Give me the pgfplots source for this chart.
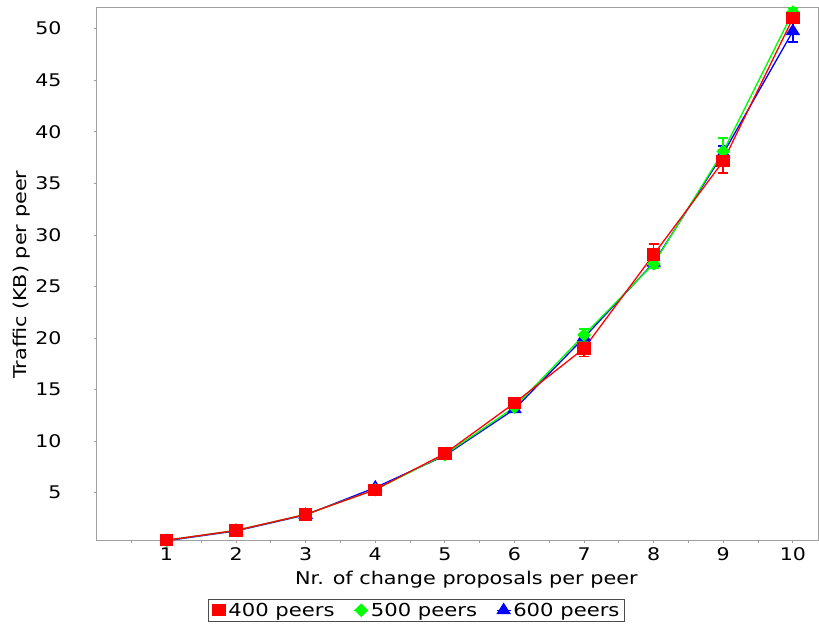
\documentclass[border=0pt]{standalone}
\usepackage{pgfplots}
\pgfplotsset{compat=1.18}
\usepackage{fontspec}
\setmainfont{DejaVu Sans}[FakeStretch=1.18]
\definecolor{axisgray}{HTML}{A0A0A0}
\definecolor{cred}{HTML}{FF0000}
\definecolor{cgreen}{HTML}{00FF00}
\definecolor{cblue}{HTML}{0000FF}
\begin{document}
\begin{tikzpicture}[x=1bp,y=1bp]
\begin{axis}[
  at={(0,0)}, anchor=south west,
  scale only axis,
  width=722.5bp, height=534bp,
  xmin=0, xmax=10.37,
  ymin=0.38, ymax=52.1,
  axis line style={axisgray, line width=0.8bp},
  xtick={1,...,10},
  ytick={5,10,...,50},
  minor xtick={0.5,1.5,...,10},
  tick style={axisgray, line width=0.8bp},
  major tick length=3bp,
  minor tick length=3bp,
  tick align=outside,
  ytick pos=left, xtick pos=bottom,
  /pgf/number format/assume math mode=true,
  tick label style={font=\fontsize{17.5}{20}\selectfont, black},
  yticklabel style={xshift=-29bp},
  xticklabel style={yshift=-1bp},
  label style={font=\fontsize{17.7}{20}\selectfont},
  xlabel={Nr. of change proposals per peer},
  ylabel={Traffic (KB) per peer},
  xlabel style={at={(axis description cs:0.512,-0.073)}, anchor=center},
  ylabel style={at={(axis description cs:-0.104,0.498)}, anchor=center, rotate=0},
  legend columns=3,
  reverse legend,
  legend style={at={(axis description cs:0.4426,-0.131)}, anchor=center,
    font=\fontsize{18}{20}\selectfont, draw=black!70, line width=0.8bp,
    inner xsep=3bp, inner ysep=2bp,
    /tikz/every odd column/.append style={column sep=0bp},
    /tikz/every even column/.append style={column sep=17bp}},
  legend image code/.code={\path (-4bp,0bp) -- (10bp,0bp);
    \draw[#1] plot coordinates {(3bp,0bp)};},
  every axis plot/.append style={line width=1.3bp},
  error bars/y dir=both, error bars/y explicit,
  error bars/error bar style={line width=1.6bp},
  error bars/error mark options={rotate=90, mark size=5bp, line width=1.6bp},
]
% 600 peers
\addplot[cblue, mark=triangle*, mark size=6.5bp,
  mark options={solid, fill=cblue, draw=cblue, xscale=1.1},
  error bars/error bar style={cblue, line width=1.6bp}]
  coordinates {
  (1,0.35) +- (0,0.10)
  (2,1.30) +- (0,0.10)
  (3,2.85) +- (0,0.10)
  (4,5.50) +- (0,0.20)
  (5,8.60) +- (0,0.20)
  (6,13.10) +- (0,0.30)
  (7,20.05) +- (0,0.35)
  (8,27.30) +- (0,0.45)
  (9,37.90) +- (0,0.70)
  (10,49.75) +- (0,1.05)
};
% 500 peers
\addplot[cgreen, mark=square*, mark size=4.2bp,
  mark options={solid, fill=cgreen, draw=cgreen, rotate=45},
  error bars/error bar style={cgreen, line width=1.6bp}]
  coordinates {
  (1,0.40) +- (0,0.15)
  (2,1.35) +- (0,0.15)
  (3,2.90) +- (0,0.15)
  (4,5.30) +- (0,0.15)
  (5,8.70) +- (0,0.15)
  (6,13.30) +- (0,0.20)
  (7,20.30) +- (0,0.60)
  (8,27.20) +- (0,0.40)
  (9,38.10) +- (0,1.30)
  (10,51.60) +- (0,0.40)
};
% 400 peers
\addplot[cred, mark=square*, mark size=5.5bp,
  mark options={solid, fill=cred, draw=cred, xscale=1.12},
  error bars/error bar style={cred, line width=1.6bp}]
  coordinates {
  (1,0.40) +- (0,0.10)
  (2,1.35) +- (0,0.10)
  (3,2.90) +- (0,0.10)
  (4,5.30) +- (0,0.15)
  (5,8.80) +- (0,0.20)
  (6,13.70) +- (0,0.30)
  (7,19.00) +- (0,0.80)
  (8,28.10) +- (0,1.00)
  (9,37.15) +- (0,1.15)
  (10,51.00) +- (0,0.50)
};
\legend{600 peers, 500 peers, 400 peers}
\end{axis}
\path[use as bounding box] (-97bp,-87bp) rectangle (722bp,541bp);
\end{tikzpicture}
\end{document}
